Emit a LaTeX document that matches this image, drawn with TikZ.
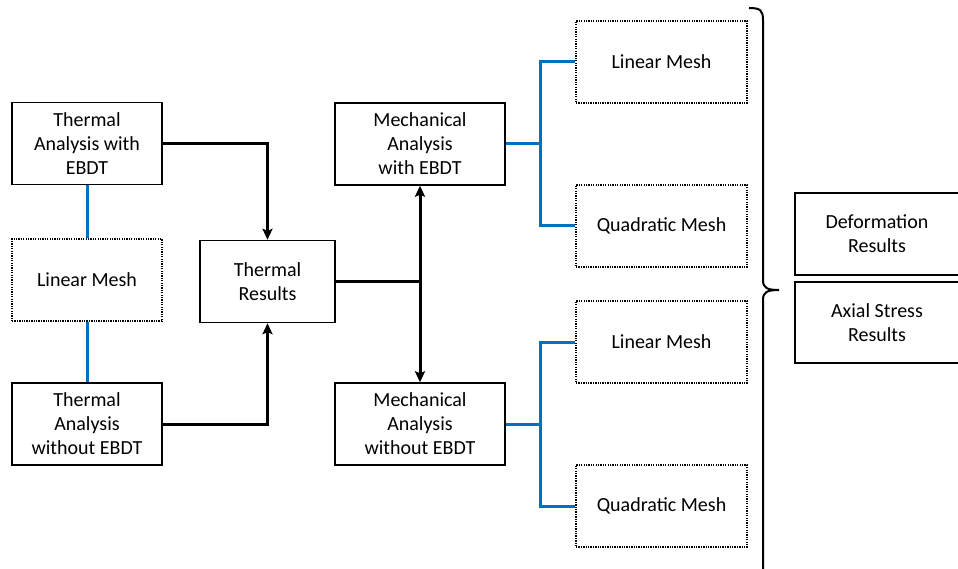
\documentclass[tikz,border=0pt]{standalone}
\usepackage{fontspec}
\setmainfont{Carlito}
\usepackage{tikz}
\usetikzlibrary{positioning,arrows,arrows.meta}
\definecolor{meshblue}{RGB}{0,112,192}

\begin{document}
\begin{tikzpicture}[x=1pt,y=-1pt,
                box/.style={rectangle,draw=black,line width=1.4pt,align=center,
                    minimum width=150,minimum height=82,inner sep=0pt,
                    font=\fontsize{20}{24}\selectfont},
                meshbox/.style={box,draw=black,line width=1.3pt,dash pattern=on 1.3pt off 1.1pt},
                flow/.style={line width=3pt,-{Stealth[length=11pt,width=10pt,inset=2pt]}},
                mesh/.style={line width=3pt,draw=meshblue},
            ]
                \useasboundingbox (0,0) rectangle (958,569);

                \node[box] (thw) at (87,143.5) {Thermal\\Analysis with\\EBDT};
                \node[meshbox] (lm) at (87,280) {Linear Mesh};
                \node[box] (tho) at (87,424) {Thermal\\Analysis\\without EBDT};
                \node[box,minimum width=135] (tr) at (267.5,281.5) {Thermal\\Results};

                \node[box,minimum width=170] (mw) at (420,144) {Mechanical\\Analysis\\with EBDT};
                \node[box,minimum width=170] (mo) at (420,424) {Mechanical\\Analysis\\without EBDT};

                \node[meshbox,minimum width=171] (lm1) at (661.5,62) {Linear Mesh};
                \node[meshbox,minimum width=171] (qm1) at (661.5,226) {Quadratic Mesh};
                \node[meshbox,minimum width=171] (lm2) at (661.5,342) {Linear Mesh};
                \node[meshbox,minimum width=171] (qm2) at (661.5,506) {Quadratic Mesh};

                \node[box,minimum width=164] (def) at (877,234) {Deformation\\Results};
                \node[box,minimum width=164,minimum height=81] (axs) at (877,322.5) {Axial Stress\\Results};

                \coordinate (split) at (mw.south |- tr.east);
                \coordinate (b1) at (540,144);
                \coordinate (b2) at (540,424);

% thermal part
                \draw[mesh] (thw) -- (lm);
                \draw[mesh] (lm) -- (tho);
                \draw[flow] (thw.east) -| (tr.north);
                \draw[flow] (tho.east) -| (tr.south);

% mechanical part
                \draw[line width=3pt] (tr.east) -- (split);
                \draw[flow,{Stealth[length=11pt,width=10pt,inset=2pt]}-{Stealth[length=11pt,width=10pt,inset=2pt]}] (mw.south) -- (mo.north);
                \draw[mesh] (mw.east) -- (b1);
                \draw[mesh] (lm1.west) -| (b1) |- (qm1.west);
                \draw[mesh] (mo.east) -- (b2);
                \draw[mesh] (lm2.west) -| (b2) |- (qm2.west);

% brace
                \draw[line width=2pt] (749,8) .. controls (760,8) and (763,10) .. (763,20)
                    -- (763,280) .. controls (763,288) and (767,290) .. (779,290)
                    .. controls (767,290) and (763,292) .. (763,300) -- (763,575);
            \end{tikzpicture}
\end{document}
